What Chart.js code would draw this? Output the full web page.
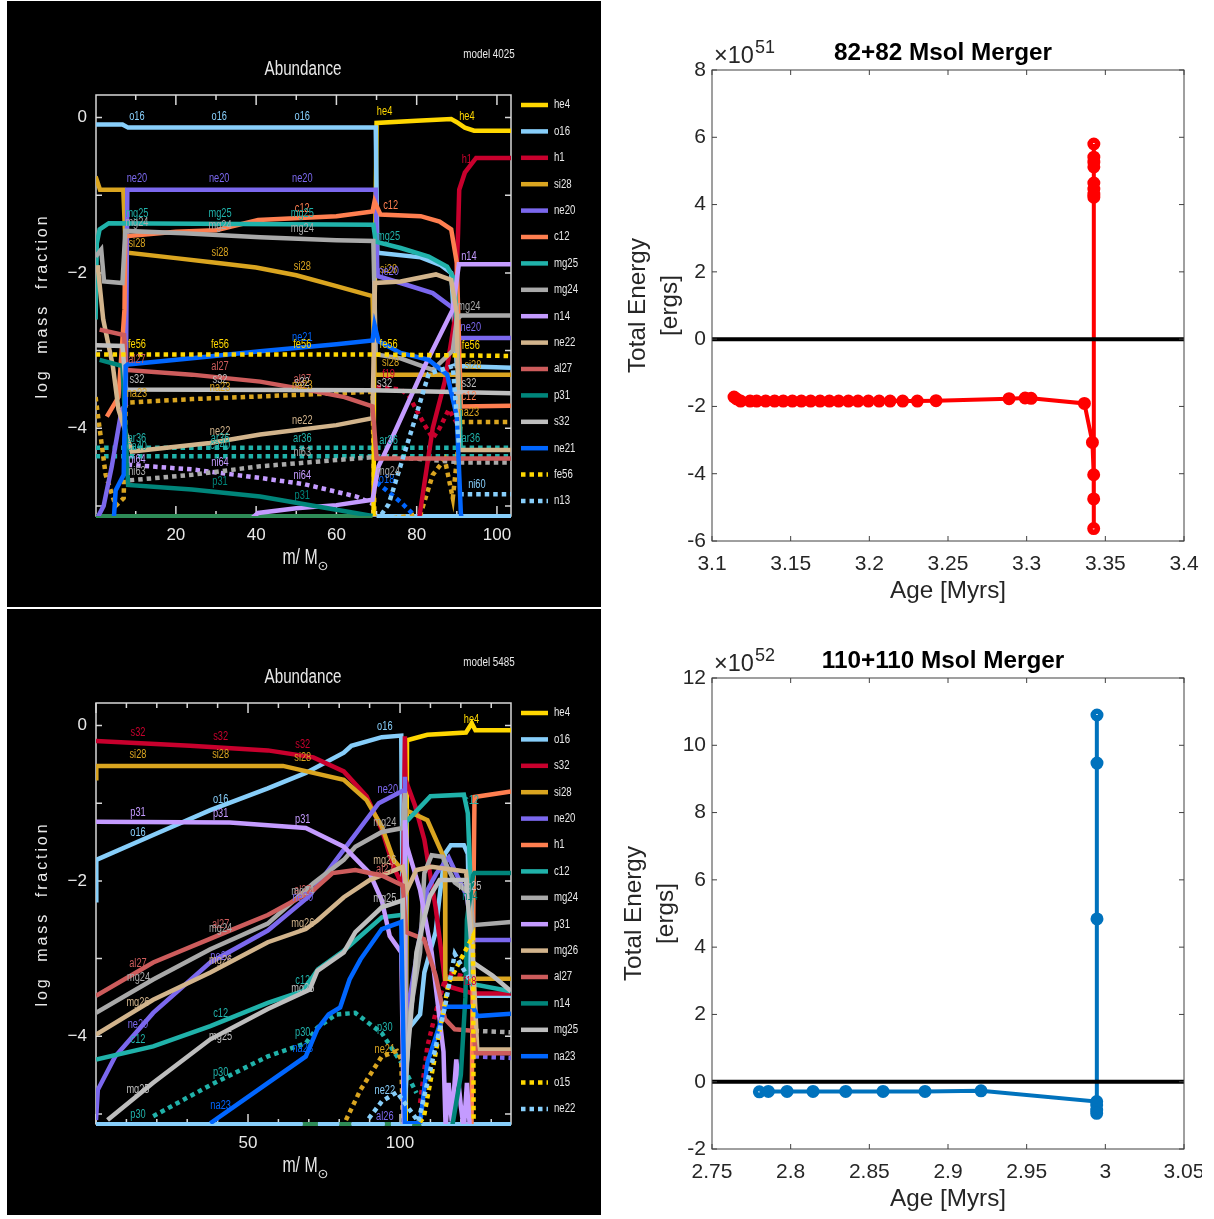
<!DOCTYPE html>
<html>
<head>
<meta charset="utf-8">
<title>Abundance and total energy</title>
<script src="https://cdn.jsdelivr.net/npm/chart.js@4"></script>
<style>
body { margin: 0; background: #fff; }
canvas { position: absolute; display: block; }
</style>
</head>
<body>
<canvas id="abundA" width="594" height="606" style="left:7px;top:1px;background:#000"></canvas>
<canvas id="energyA" width="601" height="607" style="left:601px;top:0"></canvas>
<canvas id="abundB" width="594" height="606" style="left:7px;top:609px;background:#000"></canvas>
<canvas id="energyB" width="601" height="608" style="left:601px;top:608px"></canvas>
<script>
// ---- model 4025 (82+82), [mass, log fraction]
const a_he4 = [[69.2,-6],[69.4,-3],[70,-0.07],[80,-0.04],[88.6,-0.02],[90,-0.06],[92,-0.13],[94.3,-0.17],[103.5,-0.17]];
const a_o16 = [[0,-0.09],[6.7,-0.09],[8.1,-0.13],[69.8,-0.13],[70.2,-1.74],[81,-1.8],[86,-1.9],[88.6,-2.0],[90,-3.2],[103.5,-3.22]];
const a_h1 = [[80.5,-5.2],[84,-4],[87,-3.4],[89.5,-2.6],[90.3,-1.5],[90.6,-0.93],[92,-0.71],[94.8,-0.52],[103.5,-0.52]];
const a_si28 = [[0,-0.76],[1.1,-0.93],[6.9,-0.93],[7.5,-1.7],[8,-1.74],[20,-1.81],[30,-1.87],[40,-1.93],[50,-2.03],[60,-2.17],[69,-2.3],[69.5,-3.31],[103.5,-3.31]];
const a_ne20 = [[0,-5.2],[2,-5],[4,-4.5],[6.5,-3.76],[7.5,-3.7],[7.9,-0.93],[69.8,-0.93],[70.2,-2.04],[76,-2.13],[84,-2.26],[89.5,-2.47],[90.5,-2.84],[103.5,-2.84]];
const a_c12 = [[2.8,-3.85],[5.7,-3.6],[7.2,-2.47],[7.4,-1.53],[20,-1.47],[30,-1.45],[40.5,-1.32],[60,-1.27],[69,-1.21],[69.5,-1.08],[71,-1.25],[81,-1.27],[85.7,-1.34],[88.6,-1.44],[90,-1.87],[91,-3.72],[103.5,-3.71]];
const a_mg25 = [[0,-2.6],[0.3,-1.62],[1,-1.44],[3.3,-1.36],[69.2,-1.38],[69.8,-1.6],[76,-1.68],[83,-1.79],[87.6,-1.92],[89.5,-2.09],[90.5,-3.5],[91,-4.3]];
const a_mg24 = [[0,-1.79],[1.4,-1.7],[2.1,-2.11],[6.7,-2.13],[7.4,-1.46],[22,-1.49],[41,-1.54],[60,-1.58],[69.2,-1.59],[69.8,-3.05],[76,-3.1],[84,-3.25],[89,-3],[90,-2.6],[91,-2.55],[103.5,-2.55]];
const a_n14 = [[38,-5.2],[40.5,-5.09],[50,-5.03],[60,-4.99],[69,-4.92],[70.5,-4.49],[74,-4.11],[82,-3.2],[89,-2.47],[90.5,-1.89],[103.5,-1.89]];
const a_ne22 = [[0.5,-1.9],[1.9,-2.6],[4.3,-3.2],[5.7,-3.76],[9,-4.3],[28.5,-4.19],[41,-4.08],[60,-3.96],[69,-3.87],[69.6,-2.13],[76,-2.11],[84.8,-2.02],[88.6,-2.09],[90,-2.52],[90.5,-4.28],[103.5,-4.28]];
const a_al27 = [[1,-2.73],[7.1,-2.8],[7.6,-3.25],[24,-3.31],[41,-3.4],[52,-3.5],[62,-3.6],[69,-3.72],[70,-4.39],[103.5,-4.39]];
const a_p31 = [[1,-3.12],[6.7,-3.2],[8.1,-4.73],[24,-4.79],[41,-4.88],[60,-5.05],[69,-5.13]];
const a_s32 = [[0,-2.93],[6.7,-2.94],[7.6,-3.5],[69,-3.51],[103.5,-3.55]];
const a_ne21 = [[4.5,-5.2],[5,-4.8],[7,-4.6],[7.5,-3.2],[8,-3.18],[24,-3.1],[41,-3.01],[60,-2.92],[69,-2.87],[69.5,-2.67],[70.5,-2.88],[76,-3.03],[83,-3.12],[87.6,-3.31],[90,-3.85],[91,-5.09],[91.5,-5.3]];
const a_fe56 = [[0,-3.05],[69,-3.05],[103.5,-3.07]];
const a_n13 = [[70,-5.2],[73,-4.98],[79,-3.98],[83,-3.3],[89,-3.2],[90.5,-4.2]];
// series that have no entry in the legend
const a_ar36 = [[0,-4.25],[103.5,-4.25]];
const a_ca40 = [[0,-4.36],[103.5,-4.36]];
const a_na23 = [[0,-3.6],[1,-4],[2.5,-4.6],[5,-5],[7,-4.9],[7.5,-3.7],[8,-3.67],[24,-3.625],[41,-3.59],[60,-3.55],[69,-3.53],[69.5,-5.2],[81,-5.1],[84,-4.6],[87,-4.4],[89,-4.9],[91,-3.92],[103.5,-3.92]];
const a_ni64 = [[8,-4.47],[24,-4.53],[41,-4.64],[52,-4.72],[65,-4.88],[69,-4.97],[69.5,-5.2]];
const a_ni63 = [[8.5,-4.67],[24,-4.6],[41,-4.49],[60,-4.41],[72,-4.36],[91,-4.44],[103.5,-4.44]];
const a_f19 = [[70,-3.47],[76,-3.5],[78,-3.58],[82,-3.96],[84,-4.13],[85.7,-4],[88,-3.76],[90,-3.93]];
const a_o18 = [[70,-4.7],[72.5,-4.8],[76,-4.95],[79,-5.1]];
const a_ni60 = [[90.6,-4.85],[103.5,-4.85]];
const a_floorGreen = [[0,-5.13],[69,-5.13]];
const a_floorBlue = [[70,-5.13],[103.5,-5.13]];

const speciesA = ['he4','o16','h1','si28','ne20','c12','mg25','mg24','n14','ne22','al27','p31','s32','ne21','fe56','n13'];
const valuesA = [a_he4,a_o16,a_h1,a_si28,a_ne20,a_c12,a_mg25,a_mg24,a_n14,a_ne22,a_al27,a_p31,a_s32,a_ne21,a_fe56,a_n13];
const extraNamesA = ['ar36','ca40','na23','ni64','ni63','f19','o18','ni60'];
const extraValuesA = [a_ar36,a_ca40,a_na23,a_ni64,a_ni63,a_f19,a_o18,a_ni60];

const labelsA = [
  ['o16',10.3,0.01],['o16',30.8,0.01],['o16',51.5,0.01],
  ['ne20',10.3,-0.79],['ne20',30.8,-0.79],['ne20',51.5,-0.79],
  ['mg25',10.3,-1.24],['mg25',31,-1.24],['c12',51.5,-1.18],['mg25',51.5,-1.24],
  ['mg24',10.3,-1.35],['mg24',31,-1.39],['mg24',51.5,-1.43],
  ['si28',10.3,-1.62],['si28',31,-1.74],['si28',51.5,-1.92],
  ['he4',72,0.07],['he4',92.5,0.01],['c12',73.5,-1.13],['mg25',73,-1.53],['h1',92.5,-0.54],
  ['n14',93,-1.79],['si28',73,-1.96],['ne20',73,-1.98],['mg24',93,-2.43],
  ['fe56',10.3,-2.92],['fe56',31,-2.92],['fe56',51.5,-2.92],['fe56',73,-2.92],['ne21',51.5,-2.84],
  ['al27',10.3,-3.12],['al27',31,-3.21],['al27',51.5,-3.38],
  ['s32',10.3,-3.37],['s32',31,-3.38],['s32',51.5,-3.41],['s32',72,-3.43],['s32',93,-3.43],
  ['na23',10.3,-3.55],['na23',31,-3.48],['na23',51.5,-3.45],['na23',93,-3.8],
  ['ne22',51.5,-3.9],['ne22',31,-4.05],
  ['ar36',10.3,-4.13],['ar36',31,-4.13],['ar36',51.5,-4.13],['ar36',73,-4.16],['ar36',93.5,-4.13],
  ['ca40',10.3,-4.24],['ca40',31,-4.22],['ni63',10.3,-4.56],['ni63',51.5,-4.32],
  ['ni64',10.3,-4.41],['ni64',31,-4.45],['ni64',51.5,-4.61],
  ['p31',31,-4.69],['p31',51.5,-4.87],
  ['si28',73.5,-3.16],['si28',94,-3.2],['f19',73,-3.31],['o18',72.5,-4.66],['ni60',95,-4.73],
  ['ne20',93.5,-2.71],['fe56',93.5,-2.94],['c12',93,-3.59],['mg24',73,-4.56]
];

// ---- model 5485 (110+110)
const b_he4 = [[101.8,-6],[102.3,-0.19],[109,-0.12],[121.7,-0.09],[123.6,0.03],[124.8,-0.06],[136.5,-0.06]];
const b_o16 = [[0,-2.25],[0.1,-1.73],[18.8,-1.41],[37.6,-1.09],[56.5,-0.81],[69,-0.61],[81.5,-0.35],[84,-0.26],[94,-0.15],[100.4,-0.13],[100.8,-2],[101.2,-5.2],[102.9,-3.9],[106.6,-3.72],[108,-3.18],[111.7,-2.66],[113,-2.2],[114.8,-1.65],[116.7,-1.54],[121,-1.54],[122.3,-1.65],[123.2,-3.2],[124,-3.48],[136.5,-3.48]];
const b_s32 = [[0,-0.2],[31,-0.26],[56.5,-0.32],[71.5,-0.41],[81.5,-0.59],[89,-0.91],[94,-1.34],[97.9,-1.82],[101,-2.08],[101.6,-0.14],[101.8,-0.7],[105,-1.04],[108,-1.47],[111.7,-2.34],[115,-3.35],[124,-3.45],[136.5,-3.45]];
const b_si28 = [[0,-0.68],[0.1,-0.52],[61.5,-0.52],[71.5,-0.61],[81.5,-0.7],[89,-0.96],[94,-1.3],[97.9,-1.73],[101.6,-1.9],[102,-1.09],[109,-1.22],[114.8,-1.73],[114.9,-3.26],[136.5,-3.26]];
const b_ne20 = [[0,-5.08],[0.6,-4.69],[6.3,-4.26],[18.8,-3.7],[37.6,-3.05],[56.5,-2.64],[70,-2.2],[83,-1.52],[93,-1],[101.4,-0.83],[101.6,-0.66],[102,-3.8],[109,-2.12],[112,-1.9],[116,-1.7],[122,-2.2],[124,-2.76],[136.5,-2.76]];
const b_h1 = [[123.5,-5.2],[124.2,-2],[124.5,-0.92],[136.5,-0.85]];
const b_c12 = [[0,-4.3],[18.8,-4.13],[37.6,-3.87],[56.5,-3.57],[68,-3.42],[73,-3.14],[81.5,-2.9],[94,-2.47],[100.4,-2.44],[101.6,-2.44],[102,-1.24],[110,-0.91],[121,-0.89],[122.3,-1.13],[123.5,-2.34],[124,-3.33],[136.5,-3.42]];
const b_mg24 = [[0,-3.7],[18.8,-3.27],[37.6,-2.88],[56.5,-2.55],[71.5,-2.03],[81.5,-1.73],[85.3,-1.56],[94,-1.37],[100.9,-1.32],[101.6,-0.87],[102,-4.5],[103,-3.78],[106.6,-2.92],[108,-1.9],[110.4,-1.67],[114,-1.69],[118,-2.02],[123,-2.16],[124,-2.57],[136.5,-2.53]];
const b_p31 = [[0,-1.24],[44,-1.25],[69,-1.32],[81.5,-1.56],[90,-1.9],[94,-2.25],[96.6,-2.71],[100.4,-2.92],[101.3,-5.2],[101.6,-1.22],[102.3,-1.56],[106.6,-2.12],[110.4,-2.92],[114.3,-4.2],[115,-5.2],[116,-4.6],[117,-5.1],[118.5,-4.3],[120,-4.9],[121,-5.2],[122,-4.6],[123,-5.2]];
const b_mg26 = [[0,-3.98],[18.8,-3.53],[37.6,-3.18],[56.5,-2.79],[69,-2.62],[72.8,-2.51],[81.5,-2.21],[90,-1.99],[100.9,-1.82],[102.3,-2.12],[105.4,-1.86],[110.4,-1.82],[121.7,-1.88],[123.5,-2.6],[125.4,-4.17],[136.5,-4.17]];
const b_al27 = [[0,-3.48],[18.8,-3.05],[44,-2.64],[56.5,-2.44],[71.5,-2.12],[77.8,-1.9],[85.3,-1.86],[94,-1.93],[100.9,-2.06],[102,-2.66],[107.9,-2.75],[111.7,-3.22],[114.8,-3.78],[118,-3.91],[124,-3.93],[125,-4.22],[136.5,-4.22]];
const b_n14 = [[117,-5.2],[120,-4.5],[121.5,-3.5],[122,-2.5],[124,-1.93],[124.5,-1.9],[136.5,-1.9]];
const b_mg25 = [[3.8,-5.08],[18.8,-4.6],[37.6,-4.04],[56.5,-3.65],[70.3,-3.4],[72.8,-3.16],[81.5,-2.92],[85.3,-2.66],[94,-2.34],[100.9,-2.25],[101.6,-4.6],[103.5,-3.78],[105.4,-2.92],[107.9,-2.49],[109.8,-2.2],[113,-1.99],[121.7,-1.99],[124,-3.05],[130.4,-3.22],[136.5,-3.42]];
const b_na23 = [[37.6,-5.12],[69,-4.26],[72.8,-3.91],[76.5,-3.72],[80.3,-3.63],[83.4,-3.27],[87,-3.01],[94,-2.62],[100.4,-2.53],[101.6,-5.12],[106.6,-5.12],[109,-4.34],[112.9,-3.87],[114.8,-3.62],[124,-3.62],[125.4,-3.74],[136.5,-3.71]];
const b_o15 = [[105,-5.2],[107.9,-5.03],[112.9,-3.96],[116,-3.31],[124,-2.71],[124.2,-5.1]];
const b_ne22 = [[89.7,-5.06],[94,-4.84],[99,-4.72],[106,-5.1],[114.8,-3.62],[118,-2.94],[123.2,-3.3]];
// series that have no entry in the legend
const b_p30 = [[18.8,-5.03],[37.6,-4.63],[56.5,-4.26],[69,-4.09],[72.8,-3.89],[79,-3.72],[85.3,-3.7],[94,-3.96],[100.4,-4.34],[105.4,-4.73]];
const b_f18 = [[106.6,-4.86],[109,-4.13],[111.7,-3.7],[115.4,-3.18],[120,-3.22],[124,-3.35]];
const b_ne21 = [[82.2,-5.08],[87,-4.69],[94,-4.26],[99,-4.19],[100.4,-4.3],[101,-5.2]];
const b_si29 = [[124.5,-3.93],[136.5,-3.95]];
const b_al26 = [[124.5,-4.26],[136.5,-4.28]];
const b_floorGreen = [[68,-5.13],[73,-5.13],[73,null],[80,-5.13],[84,-5.13],[84,null],[95,-5.13],[97,-5.13],[97,null],[104,-5.13],[107,-5.13]];
const b_floorBlue = [[0,-5.13],[68,-5.13],[68,null],[73,-5.13],[80,-5.13],[80,null],[84,-5.13],[95,-5.13],[95,null],[97,-5.13],[104,-5.13],[104,null],[107,-5.13],[136.5,-5.13]];

const speciesB = ['he4','o16','s32','si28','ne20','h1','c12','mg24','p31','mg26','al27','n14','mg25','na23','o15','ne22'];
const valuesB = [b_he4,b_o16,b_s32,b_si28,b_ne20,b_h1,b_c12,b_mg24,b_p31,b_mg26,b_al27,b_n14,b_mg25,b_na23,b_o15,b_ne22];
const extraNamesB = ['p30','f18','ne21','si29','al26'];
const extraValuesB = [b_p30,b_f18,b_ne21,b_si29,b_al26];

const labelsB = [
  ['s32',13.8,-0.09],['s32',41,-0.14],['s32',68,-0.25],
  ['si28',13.8,-0.38],['si28',41,-0.38],['si28',68,-0.42],
  ['p31',13.8,-1.12],['p31',41,-1.14],['p31',68,-1.21],
  ['o16',13.8,-1.38],['o16',41,-0.96],['o16',95,-0.02],['he4',123.5,0.07],['c12',123.5,-0.97],
  ['ne20',96,-0.82],['mg24',95,-1.25],['mg26',95,-1.74],['al27',95,-1.85],['mg25',95,-2.23],
  ['al27',68,-2.12],['mg24',68,-2.14],['ne20',68,-2.21],['mg26',68,-2.55],['al27',41,-2.57],['mg24',41,-2.62],
  ['al27',13.8,-3.07],['mg24',14,-3.25],['mg26',13.8,-3.57],['ne20',13.8,-3.85],['c12',13.8,-4.04],['mg25',13.8,-4.69],['p30',13.8,-5.01],
  ['ne20',41,-2.97],['mg26',41,-3.03],['c12',41,-3.71],['mg25',41,-4],['p30',41,-4.47],['na23',41,-4.9],
  ['c12',68,-3.28],['mg25',68,-3.39],['p30',68,-3.95],['na23',68,-4.16],
  ['p30',95,-3.89],['ne21',95,-4.17],['ne22',95,-4.7],['al26',95,-5.03],['f18',123,-3.3],['n14',123,-2.2],['mg25',123,-2.07]
];

// ---- total energy against age
const ageA = [3.114,3.1157,3.1182,3.1242,3.1284,3.1341,3.1398,3.1453,3.1511,3.1568,3.1627,3.1687,3.1746,3.1805,3.1867,3.1928,3.1994,3.2062,3.2132,3.2212,3.2305,3.2424,3.2888,3.299,3.3028,3.3367,3.3418,3.3426,3.3426,3.3426,3.3427,3.3427,3.3427,3.3427,3.3427,3.3427,3.3427,3.3427];
const energyA = [-1.72,-1.78,-1.84,-1.84,-1.84,-1.84,-1.84,-1.84,-1.84,-1.84,-1.84,-1.84,-1.84,-1.84,-1.84,-1.84,-1.84,-1.84,-1.84,-1.84,-1.84,-1.83,-1.77,-1.75,-1.76,-1.91,-3.07,-4.03,-4.75,-5.63,4.22,4.31,4.46,4.64,5.12,5.26,5.41,5.8];
const ageB = [2.7801,2.7858,2.7977,2.8142,2.835,2.8587,2.8854,2.921,2.9945,2.9945,2.9945,2.9945,2.9947,2.9947,2.9947];
const energyB = [-0.3,-0.29,-0.29,-0.29,-0.29,-0.29,-0.29,-0.27,-0.59,-0.69,-0.84,-0.94,4.84,9.47,10.9];

// colours go by rank in the legend, the way the plotting code hands them out
const paletteLegend = ['#ffd700','#87cefa','#c8002d','#daa520','#7b68ee','#ff7f50','#20b2aa','#a9a9a9','#c49bff','#d2b48c','#cd5c5c','#00857a','#bebebe','#0066ff','#ffd700','#87cefa'];
const extraColoursA = ['#20b2aa','#20b2aa','#daa520','#c49bff','#a9a9a9','#c8002d','#0066ff','#87cefa'];
const extraColoursB = ['#20b2aa','#c8002d','#daa520','#a9a9a9','#7b68ee'];

const plotFont = '"Liberation Sans", sans-serif';
const matlabFont = '"Liberation Sans", Arial, sans-serif';

// the original lettering is narrow, no condensed face is installed so squeeze it
function narrowText(c, text, x, y, squeeze) {
  c.save();
  c.translate(x, y);
  c.scale(squeeze, 1);
  c.fillText(text, 0, 0);
  c.restore();
}

function abundanceChart(id, opts) {
  const datasets = [];
  const colourOf = {};
  opts.floors.forEach(function (f) {
    datasets.push({ label: f.name, data: f.data, borderColor: f.colour, borderWidth: 4, pointRadius: 0, clip: { left: 0, right: 0, top: 0, bottom: 4 }, inLegend: false });
  });
  opts.extraNames.forEach(function (name, i) {
    colourOf[name] = opts.extraColours[i];
    datasets.push({ label: name, data: opts.extraValues[i], borderColor: opts.extraColours[i], borderWidth: 4.5, borderDash: [4.5, 4], pointRadius: 0, inLegend: false });
  });
  opts.species.forEach(function (name, i) {
    colourOf[name] = opts.palette[i];
    const dotted = i >= 14;
    datasets.push({ label: name, data: opts.values[i], borderColor: opts.palette[i], borderWidth: 4.5, borderDash: dotted ? [4.5, 4] : [], pointRadius: 0, inLegend: true });
  });
  // later entries of the list are painted over earlier ones
  datasets.forEach(function (d, i) { d.order = -i; });
  const legendSets = datasets.filter(d => d.inLegend);

  const decorate = {
    id: 'decorate',
    // frame goes under the curves so the strip along the bottom covers it
    beforeDatasetsDraw(chart) {
      const c = chart.ctx;
      const area = chart.chartArea;
      const xs = chart.scales.x, ys = chart.scales.y;
      c.save();
      c.strokeStyle = '#d8d8d8';
      c.lineWidth = 1.5;
      c.strokeRect(area.left, area.top, area.right - area.left, area.bottom - area.top);
      c.beginPath();
      xs.ticks.forEach(function (t) {
        const px = xs.getPixelForValue(t.value);
        const len = t.value % opts.xMajor === 0 ? 10 : 5;
        c.moveTo(px, area.top); c.lineTo(px, area.top + len);
        c.moveTo(px, area.bottom); c.lineTo(px, area.bottom - len);
      });
      ys.ticks.forEach(function (t) {
        const py = ys.getPixelForValue(t.value);
        c.moveTo(area.left, py); c.lineTo(area.left + 6, py);
        c.moveTo(area.right, py); c.lineTo(area.right - 6, py);
      });
      c.stroke();
      c.restore();
    },
    afterDatasetsDraw(chart) {
      const c = chart.ctx;
      const xs = chart.scales.x, ys = chart.scales.y;
      c.save();
      // curve labels
      c.font = '12px ' + plotFont;
      c.textAlign = 'center';
      c.textBaseline = 'middle';
      opts.labels.forEach(function (l) {
        c.fillStyle = colourOf[l[0]] || '#ccc';
        narrowText(c, l[0], xs.getPixelForValue(l[1]), ys.getPixelForValue(l[2]), 0.77);
      });
      // legend
      c.textAlign = 'left';
      c.font = '12.5px ' + plotFont;
      legendSets.forEach(function (d, i) {
        const y = 104 + i * 26.4;
        c.strokeStyle = d.borderColor;
        c.lineWidth = 4.5;
        c.setLineDash(d.borderDash);
        c.beginPath(); c.moveTo(514, y); c.lineTo(541, y); c.stroke();
        c.setLineDash([]);
        c.fillStyle = '#e8e8e8';
        narrowText(c, d.label, 547, y, 0.77);
      });
      // headings
      c.textAlign = 'center';
      c.fillStyle = '#e8e8e8';
      c.font = '20px ' + plotFont;
      narrowText(c, 'Abundance', 296, 68, 0.76);
      c.font = '12px ' + plotFont;
      narrowText(c, opts.modelName, 482, 54, 0.82);
      c.font = '22px ' + plotFont;
      narrowText(c, 'm/ M', 293, 557, 0.72);
      c.font = '13px "DejaVu Sans", sans-serif';
      c.fillText('\u2299', 316, 566);
      // y title, spread out like the original
      c.translate(36, 305);
      c.rotate(-Math.PI / 2);
      c.letterSpacing = '2.9px';
      c.font = '16px "Liberation Sans", sans-serif';
      c.fillText('log  mass  fraction', 0, 0);
      c.restore();
    }
  };

  return new Chart(document.getElementById(id), {
    type: 'line',
    data: { datasets: datasets },
    options: {
      responsive: false,
      animation: false,
      events: [],
      layout: { padding: { top: 94, right: 90, bottom: 0, left: 0 } },
      plugins: { legend: { display: false }, tooltip: { enabled: false } },
      scales: {
        x: {
          type: 'linear',
          min: opts.xMin,
          max: opts.xMax,
          grid: { display: false, drawTicks: false },
          border: { display: false },
          afterFit(s) { s.height = 91; s.paddingLeft = 0; s.paddingRight = 0; },
          ticks: {
            stepSize: 10,
            includeBounds: false,
            autoSkip: false,
            maxRotation: 0,
            padding: 9,
            color: '#e8e8e8',
            font: { family: plotFont, size: 17 },
            callback: v => (v !== 0 && v % opts.xMajor === 0 ? String(v) : '')
          }
        },
        y: {
          min: -5.13,
          max: 0.29,
          grid: { display: false, drawTicks: false },
          border: { display: false },
          afterFit(s) { s.width = 89; s.paddingTop = 0; s.paddingBottom = 0; },
          ticks: {
            stepSize: 1,
            includeBounds: false,
            autoSkip: false,
            padding: 9,
            color: '#e8e8e8',
            font: { family: plotFont, size: 17 },
            callback: v => (v % 2 === 0 ? (v < 0 ? '\u2212' + Math.abs(v) : String(v)) : '')
          }
        }
      }
    },
    plugins: [decorate]
  });
}

function energyChart(id, opts) {
  const points = opts.age.map((a, i) => [a, opts.energy[i]]);
  const decorate = {
    id: 'decorate',
    afterDatasetsDraw(chart) {
      const c = chart.ctx;
      const area = chart.chartArea;
      const xs = chart.scales.x, ys = chart.scales.y;
      c.save();
      c.strokeStyle = '#404040';
      c.lineWidth = 1;
      c.strokeRect(area.left, area.top, area.right - area.left, area.bottom - area.top);
      c.beginPath();
      xs.ticks.forEach(function (t) {
        const px = xs.getPixelForValue(t.value);
        c.moveTo(px, area.top); c.lineTo(px, area.top + 5);
        c.moveTo(px, area.bottom); c.lineTo(px, area.bottom - 5);
      });
      ys.ticks.forEach(function (t) {
        const py = ys.getPixelForValue(t.value);
        c.moveTo(area.left, py); c.lineTo(area.left + 5, py);
        c.moveTo(area.right, py); c.lineTo(area.right - 5, py);
      });
      c.stroke();
      c.fillStyle = '#000';
      c.textAlign = 'center';
      c.textBaseline = 'middle';
      c.font = 'bold 24.3px ' + matlabFont;
      c.fillText(opts.title, 342, 53);
      c.fillStyle = '#262626';
      c.textAlign = 'left';
      c.font = '23.5px ' + matlabFont;
      c.fillText('\u00d710', 113, 57);
      c.font = '18px ' + matlabFont;
      c.fillText(opts.exponent, 154, 48);
      c.restore();
    }
  };
  return new Chart(document.getElementById(id), {
    type: 'line',
    data: {
      datasets: [
        { label: 'zero', data: [[opts.xMin, 0], [opts.xMax, 0]], borderColor: '#000', borderWidth: 4, pointRadius: 0, order: 0 },
        { label: 'energy', data: points, borderColor: opts.colour, borderWidth: 4, pointRadius: 3.75, pointBorderWidth: 5.5, pointBorderColor: opts.colour, pointBackgroundColor: 'rgba(0,0,0,0)', order: 1 }
      ]
    },
    options: {
      responsive: false,
      animation: false,
      events: [],
      layout: { padding: { top: 70, right: opts.rightPad, bottom: 0, left: 0 } },
      plugins: { legend: { display: false }, tooltip: { enabled: false } },
      scales: {
        x: {
          type: 'linear',
          min: opts.xMin,
          max: opts.xMax,
          grid: { display: false, drawTicks: false },
          border: { display: false },
          afterFit(s) { s.height = opts.height - 541; s.paddingLeft = 0; s.paddingRight = 0; },
          title: { display: true, text: 'Age [Myrs]', color: '#262626', font: { family: matlabFont, size: 24.3, lineHeight: 1.2 }, padding: { top: 0, bottom: opts.height - 606 } },
          ticks: { stepSize: 0.05, includeBounds: false, autoSkip: false, maxRotation: 0, padding: 11, color: '#262626', font: { family: matlabFont, size: 21 }, callback: v => String(+v.toFixed(2)) }
        },
        y: {
          min: opts.yMin,
          max: opts.yMax,
          grid: { display: false, drawTicks: false },
          border: { display: false },
          afterFit(s) { s.width = 111; s.paddingTop = 0; s.paddingBottom = 0; },
          title: { display: true, text: ['Total Energy', '[ergs]'], color: '#262626', font: { family: matlabFont, size: 24.3, lineHeight: 1.3 }, padding: { top: opts.titlePad, bottom: 0 } },
          ticks: { stepSize: 2, includeBounds: false, autoSkip: false, padding: 6, color: '#262626', font: { family: matlabFont, size: 21 } }
        }
      }
    },
    plugins: [decorate]
  });
}

abundanceChart('abundA', {
  species: speciesA, values: valuesA, palette: paletteLegend,
  extraNames: extraNamesA, extraValues: extraValuesA, extraColours: extraColoursA,
  floors: [{ name: 'floor1', data: a_floorGreen, colour: '#2e8b57' }, { name: 'floor2', data: a_floorBlue, colour: '#87cefa' }],
  labels: labelsA, modelName: 'model 4025', xMin: 0.1, xMax: 103.5, xMajor: 20
});
abundanceChart('abundB', {
  species: speciesB, values: valuesB, palette: paletteLegend,
  extraNames: extraNamesB, extraValues: extraValuesB, extraColours: extraColoursB,
  floors: [{ name: 'floor1', data: b_floorGreen, colour: '#2e8b57' }, { name: 'floor2', data: b_floorBlue, colour: '#87cefa' }],
  labels: labelsB, modelName: 'model 5485', xMin: 0, xMax: 136.5, xMajor: 50
});
energyChart('energyA', { age: ageA, energy: energyA, colour: '#ff0000', title: '82+82 Msol Merger', exponent: '51', xMin: 3.1, xMax: 3.4, yMin: -6, yMax: 8, height: 607, rightPad: 18, titlePad: 22 });
energyChart('energyB', { age: ageB, energy: energyB, colour: '#0072bd', title: '110+110 Msol Merger', exponent: '52', xMin: 2.75, xMax: 3.05, yMin: -2, yMax: 12, height: 608, rightPad: 18, titlePad: 18 });
</script>
</body>
</html>
